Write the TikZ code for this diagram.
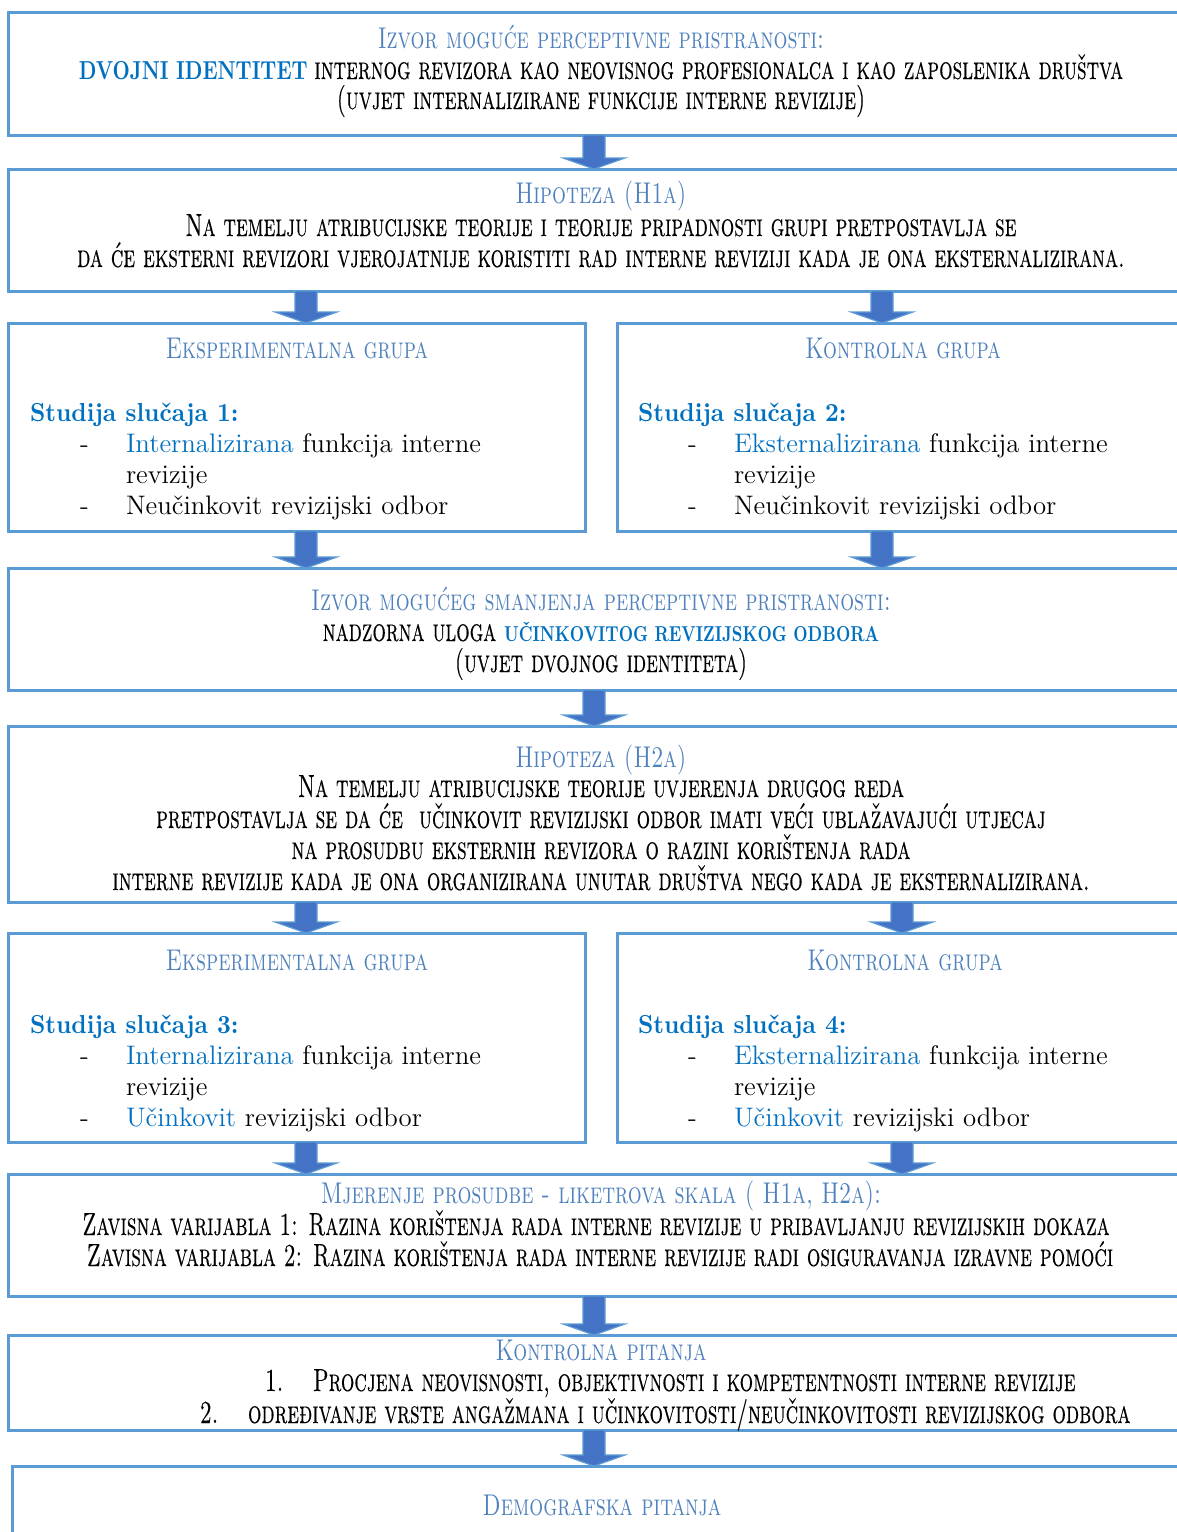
\documentclass[tikz,border=0pt]{standalone}
\usepackage{fontspec}
\usetikzlibrary{fit,calc}
\newfontfamily\scH{lmromancaps10-regular.otf}[FakeStretch=0.73]
\newfontfamily\scB{lmromancaps10-regular.otf}[FakeStretch=0.66,FakeBold=0.3]
\newfontfamily\bdC{lmroman10-bold.otf}[FakeStretch=0.77]
\newfontfamily\bdS{lmroman10-bold.otf}[FakeStretch=0.925]
\definecolor{bord}{RGB}{91,155,213}
\definecolor{arrfill}{RGB}{68,114,196}
\definecolor{head}{RGB}{79,129,189}
\definecolor{bblue}{RGB}{0,112,192}
\newcommand{\hsc}{\fontsize{15}{16}\scH\color{head}}
\newcommand{\bsc}{\fontsize{16}{16}\scB}
\newcommand{\bdy}{\fontsize{13.4}{16}\selectfont}
\newcommand{\stud}{\fontsize{13}{16}\bdS\color{bblue}}
\newcommand{\bcaps}[1]{{\fontsize{10.8}{15}\bdC\color{bblue}#1}}
\newcommand{\blk}[3]{%
  \path[blkarrow] let \p1=(#1.south -| #3), \p2=(#2.north -| #3) in
    (\x1-5.5pt,\y1) -- (\x1+5.5pt,\y1) -- (\x1+5.5pt,\y2+5.5pt) -- (\x1+15.5pt,\y2+5.5pt)
    -- (\x1,\y2) -- (\x1-15.5pt,\y2+5.5pt) -- (\x1-5.5pt,\y2+5.5pt) -- cycle;}
\tikzset{
  box/.style={draw=bord, line width=1.5pt, inner sep=0pt, outer sep=0pt, rectangle},
  blkarrow/.style={fill=arrfill, draw=bord, line width=0.6pt, line join=miter},
  tx/.style={inner sep=0pt, outer sep=0pt, anchor=base},
  tl/.style={inner sep=0pt, outer sep=0pt, anchor=base west},
}
\begin{document}
\begin{tikzpicture}[x=0.5pt,y=-0.5pt]
\useasboundingbox (0,0) rectangle (1177,1532);
\fill[white] (0,0) rectangle (1177,1532);
\clip (0,0) rectangle (1177,1532);
% boxes
\node[box, fit={(8,12) (1195,135)}] (b1) {};
\node[box, fit={(8,169) (1195,291)}] (b2) {};
\node[box, fit={(8,323) (585,531)}] (b3a) {};
\node[box, fit={(617,323) (1195,531)}] (b3b) {};
\node[box, fit={(8,568) (1195,690)}] (b4) {};
\node[box, fit={(8,726) (1195,902)}] (b5) {};
\node[box, fit={(8,933) (585,1142)}] (b6a) {};
\node[box, fit={(617,933) (1195,1142)}] (b6b) {};
\node[box, fit={(8,1174) (1195,1296)}] (b7) {};
\node[box, fit={(8,1335) (1195,1430)}] (b8) {};
\node[box, fit={(12,1466) (1195,1600)}] (b9) {};
% arrow columns
\coordinate (cm) at (594,0);
\coordinate (cl) at (306,0);
\coordinate (cr) at (882,0);
\coordinate (cr2) at (902,0);
\blk{b1}{b2}{cm}
\blk{b2}{b3a}{cl}
\blk{b2}{b3b}{cr}
\blk{b3a}{b4}{cl}
\blk{b3b}{b4}{cr}
\blk{b4}{b5}{cm}
\blk{b5}{b6a}{cl}
\blk{b5}{b6b}{cr2}
\blk{b6a}{b7}{cl}
\blk{b6b}{b7}{cr2}
\blk{b7}{b8}{cm}
\blk{b8}{b9}{cm}
% box 1
\node[tx] (t1a) at (601,48) {\hsc Izvor moguće perceptivne pristranosti:};
\node[tx] (t1b) at (601,79) {{\fontsize{13}{15}\bdC\color{bblue}DVOJNI IDENTITET} \bsc internog revizora kao neovisnog profesionalca i kao zaposlenika društva};
\node[tx] (t1c) at (601,109) {\bsc (uvjet internalizirane funkcije interne revizije)};
% box 2
\node[tx] (t2a) at (601,203) {\hsc Hipoteza (H1a)};
\node[tx] (t2b) at (601,236) {\bsc Na temelju atribucijske teorije i teorije pripadnosti grupi pretpostavlja se};
\node[tx] (t2c) at (601,267) {\bsc da će eksterni revizori vjerojatnije koristiti rad interne reviziji kada je ona eksternalizirana.};
% box 3a
\node[tx] (t3a) at (297,358) {\hsc Eksperimentalna grupa};
\node[tl] (s3a) at (30,421) {\stud Studija slučaja 1:};
\node[tl] (d3a1) at (80,452) {\bdy -};
\node[tl] (l3a1) at (126,452) {\bdy {\color{bblue}Internalizirana} funkcija interne};
\node[tl] (l3a2) at (126,483) {\bdy revizije};
\node[tl] (d3a2) at (80,514) {\bdy -};
\node[tl] (l3a3) at (126,514) {\bdy Neučinkovit revizijski odbor};
% box 3b
\node[tx] (t3b) at (903,358) {\hsc Kontrolna grupa};
\node[tl] (s3b) at (638,421) {\stud Studija slučaja 2:};
\node[tl] (d3b1) at (688,452) {\bdy -};
\node[tl] (l3b1) at (734,452) {\bdy {\color{bblue}Eksternalizirana} funkcija interne};
\node[tl] (l3b2) at (734,483) {\bdy revizije};
\node[tl] (d3b2) at (688,514) {\bdy -};
\node[tl] (l3b3) at (734,514) {\bdy Neučinkovit revizijski odbor};
% box 4
\node[tx] (t4a) at (601,610) {\hsc Izvor mogućeg smanjenja perceptivne pristranosti:};
\node[tx] (t4b) at (601,641) {\bsc nadzorna uloga \bcaps{UČINKOVITOG REVIZIJSKOG ODBORA}};
\node[tx] (t4c) at (601,672) {\bsc (uvjet dvojnog identiteta)};
% box 5
\node[tx] (t5a) at (601,767) {\hsc Hipoteza (H2a)};
\node[tx] (t5b) at (601,797) {\bsc Na temelju atribucijske teorije uvjerenja drugog reda};
\node[tx] (t5c) at (601,828) {\bsc pretpostavlja se da će\ \ učinkovit revizijski odbor imati veći ublažavajući utjecaj};
\node[tx] (t5d) at (601,859) {\bsc na prosudbu eksternih revizora o razini korištenja rada};
\node[tx] (t5e) at (601,890) {\bsc interne revizije kada je ona organizirana unutar društva nego kada je eksternalizirana.};
% box 6a
\node[tx] (t6a) at (297,970) {\hsc Eksperimentalna grupa};
\node[tl] (s6a) at (30,1033) {\stud Studija slučaja 3:};
\node[tl] (d6a1) at (80,1064) {\bdy -};
\node[tl] (l6a1) at (126,1064) {\bdy {\color{bblue}Internalizirana} funkcija interne};
\node[tl] (l6a2) at (126,1095) {\bdy revizije};
\node[tl] (d6a2) at (80,1126) {\bdy -};
\node[tl] (l6a3) at (126,1126) {\bdy {\color{bblue}Učinkovit} revizijski odbor};
% box 6b
\node[tx] (t6b) at (905,970) {\hsc Kontrolna grupa};
\node[tl] (s6b) at (638,1033) {\stud Studija slučaja 4:};
\node[tl] (d6b1) at (688,1064) {\bdy -};
\node[tl] (l6b1) at (734,1064) {\bdy {\color{bblue}Eksternalizirana} funkcija interne};
\node[tl] (l6b2) at (734,1095) {\bdy revizije};
\node[tl] (d6b2) at (688,1126) {\bdy -};
\node[tl] (l6b3) at (734,1126) {\bdy {\color{bblue}Učinkovit} revizijski odbor};
% box 7
\node[tx] (t7a) at (601,1203) {\hsc Mjerenje prosudbe - liketrova skala ( H1a, H2a):};
\node[tx] (t7b) at (596,1235) {\bsc Zavisna varijabla 1: Razina korištenja rada interne revizije u pribavljanju revizijskih dokaza};
\node[tx] (t7c) at (600,1266) {\bsc Zavisna varijabla 2: Razina korištenja rada interne revizije radi osiguravanja izravne pomoći};
% box 8
\node[tx] (t8a) at (601,1360) {\hsc Kontrolna pitanja};
\node[tl] (n8a) at (265,1391) {\bsc 1.};
\node[tl] (l8a) at (313,1391) {\bsc Procjena neovisnosti, objektivnosti i kompetentnosti interne revizije};
\node[tl] (n8b) at (200,1423) {\bsc 2.};
\node[tl] (l8b) at (248,1423) {\bsc određivanje vrste angažmana i učinkovitosti/neučinkovitosti revizijskog odbora};
% box 9
\node[tx] (t9a) at (602,1515) {\hsc Demografska pitanja};
\end{tikzpicture}
\end{document}
